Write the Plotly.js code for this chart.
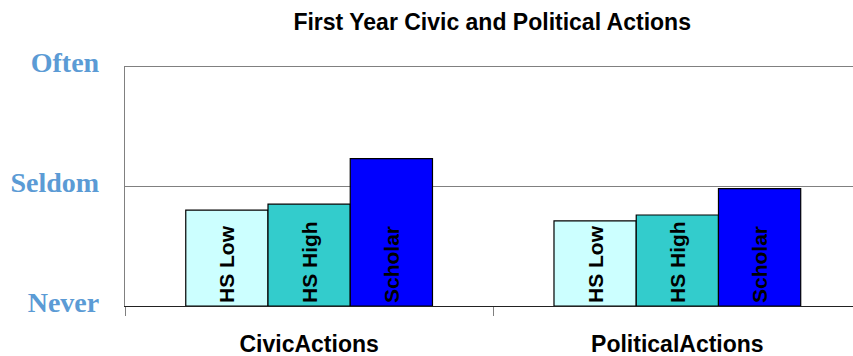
<!DOCTYPE html>
<html>
<head>
<meta charset="utf-8">
<script src="https://cdn.plot.ly/plotly-3.0.1.min.js"></script>
<style>
  html, body { margin: 0; padding: 0; background: #ffffff; }
  #chart { width: 853px; height: 356px; }
</style>
</head>
<body>
<div id="chart"></div>
<script>
// Frequency scale: 1 = Never, 2 = Seldom, 3 = Often
const categories = ['CivicActions', 'PoliticalActions'];
const groups = ['HS Low', 'HS High', 'Scholar'];
const hsLow = [1.80, 1.71];
const hsHigh = [1.85, 1.76];
const scholar = [2.23, 1.98];
const scaleValues = [1, 2, 3];
const scaleLabels = ['Never', 'Seldom', 'Often'];
const groupColors = ['#ccffff', '#33cccc', '#0000ff'];

const seriesValues = [hsLow, hsHigh, scholar];
const scaleFloor = scaleValues[0];
const scaleTop = scaleValues[scaleValues.length - 1];

// Bars rise from "Never", so each bar's length is its score above the floor
const traces = groups.map((name, i) => ({
  type: 'bar',
  name: name,
  x: categories,
  y: seriesValues[i].map(v => v - scaleFloor),
  base: scaleFloor,
  text: categories.map(() => name),
  textposition: 'inside',
  insidetextanchor: 'start',
  textangle: -90,
  constraintext: 'none',
  textfont: { family: 'Liberation Sans, Arial, sans-serif', size: 21, color: '#000000', weight: 'bold' },
  marker: { color: groupColors[i], line: { color: '#000000', width: 1.2 } },
  hoverinfo: 'skip'
}));

const layout = {
  width: 853,
  height: 356,
  margin: { l: 125, r: 0, t: 66, b: 50, pad: 0 },
  paper_bgcolor: '#ffffff',
  plot_bgcolor: '#ffffff',
  showlegend: false,
  barmode: 'group',
  bargap: 0.33,
  bargroupgap: 0,
  title: {
    text: 'First Year Civic and Political Actions',
    font: { family: 'Liberation Sans, Arial, sans-serif', size: 23, color: '#000000', weight: 'bold' },
    x: 0.577,
    xanchor: 'center',
    y: 0.938,
    yanchor: 'middle',
    xref: 'container',
    yref: 'container'
  },
  // gridline at the top of the scale, which sits on the plot edge
  shapes: [{
    type: 'line',
    xref: 'paper', yref: 'y',
    x0: 0, x1: 1, y0: scaleTop, y1: scaleTop,
    line: { color: '#808080', width: 1.2 },
    layer: 'below'
  }],
  xaxis: {
    type: 'category',
    range: [-0.5, 1.477],
    showline: true,
    linecolor: '#222222',
    linewidth: 1.2,
    ticks: 'outside',
    tickson: 'boundaries',
    ticklen: 9,
    tickcolor: '#808080',
    tickwidth: 1,
    showgrid: false,
    ticklabelstandoff: 17,
    tickfont: { family: 'Liberation Sans, Arial, sans-serif', size: 23, color: '#000000', weight: 'bold' },
    fixedrange: true
  },
  yaxis: {
    range: [scaleFloor, scaleTop + 0.004],
    tickmode: 'array',
    tickvals: scaleValues,
    ticktext: scaleLabels,
    showline: true,
    linecolor: '#808080',
    linewidth: 1.2,
    showgrid: true,
    gridcolor: '#808080',
    gridwidth: 1.2,
    zeroline: false,
    ticks: '',
    ticklabelstandoff: 19,
    ticklabelshift: -4,
    tickfont: { family: 'Liberation Serif, Times New Roman, serif', size: 28, color: '#5b9bd5', weight: 'bold' },
    fixedrange: true
  }
};

Plotly.newPlot('chart', traces, layout, { displayModeBar: false, staticPlot: true });
</script>
</body>
</html>
